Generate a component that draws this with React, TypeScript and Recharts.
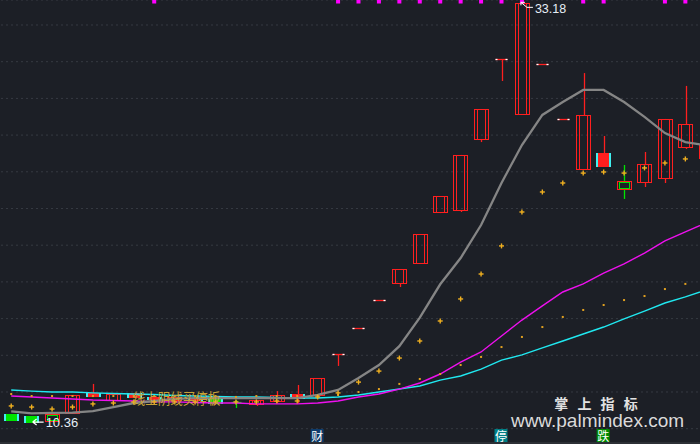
import React from 'react'
import { ComposedChart, Bar, Line, XAxis, YAxis, CartesianGrid, ReferenceDot } from 'recharts'

// daily candles, left to right
const opens = [10.80, 10.69, 10.72, 10.86, 11.78, 11.56, 11.73, 11.62, 11.56, 11.62, 11.67, 11.46, 11.35, 11.51, 11.67, 11.84, 14.07, 15.49, 17.01, 17.94, 19.03, 21.81, 21.92, 25.79, 30.15, 27.15, 29.87, 26.88, 24.15, 24.32, 23.44, 23.44, 23.66, 25.35, 24.75]
const highs = [10.80, 10.69, 10.75, 11.84, 12.44, 11.89, 11.95, 11.73, 11.75, 11.70, 11.67, 11.56, 11.56, 12.05, 12.38, 12.76, 14.07, 15.49, 17.01, 18.70, 20.61, 22.68, 24.92, 27.42, 30.15, 33.18, 29.87, 26.88, 29.38, 25.95, 24.37, 25.08, 26.88, 28.68, 25.46]
const lows = [10.47, 10.36, 10.40, 10.80, 11.78, 11.56, 11.73, 11.62, 11.56, 11.62, 11.40, 11.13, 11.24, 11.40, 11.40, 11.84, 13.42, 15.49, 17.01, 17.72, 19.03, 21.75, 21.81, 25.62, 28.95, 27.15, 29.87, 26.88, 24.15, 24.32, 22.52, 23.17, 23.39, 25.24, 24.75]
const closes = [10.47, 10.37, 10.45, 11.84, 11.95, 11.89, 11.95, 11.73, 11.73, 11.70, 11.40, 11.44, 11.56, 11.84, 11.89, 12.76, 14.07, 15.49, 17.01, 18.70, 20.61, 22.68, 24.92, 27.42, 30.15, 33.18, 29.87, 26.88, 27.10, 25.02, 23.12, 24.43, 26.88, 26.60, 25.46]
// h hollow up, s solid up, g solid down, x cross, b boxed down, f one-price / T
const kinds = ['g', 'g', 'b', 'h', 's', 'h', 's', 's', 'h', 's', 'g', 'x', 'h', 'h', 's', 'h', 'f', 'f', 'f', 'h', 'h', 'h', 'h', 'h', 'f', 'h', 'f', 'f', 'h', 's', 'b', 'h', 'h', 'h', 'h']

const maGray = [10.94, 10.84, 10.86, 10.88, 10.96, 11.18, 11.40, 11.51, 11.62, 11.67, 11.67, 11.67, 11.67, 11.67, 11.67, 11.84, 12.11, 12.76, 13.47, 14.50, 16.05, 17.87, 19.30, 21.10, 23.39, 25.46, 27.10, 27.80, 28.46, 28.46, 27.80, 26.99, 26.11, 25.62, 25.45]
const maMagenta = [11.78, 11.73, 11.67, 11.62, 11.56, 11.54, 11.51, 11.46, 11.46, 11.43, 11.40, 11.40, 11.35, 11.35, 11.35, 11.40, 11.51, 11.73, 11.89, 12.16, 12.49, 12.98, 13.63, 14.18, 15.05, 15.92, 16.69, 17.45, 17.89, 18.48, 18.98, 19.57, 20.23, 20.72, 21.21]
const maCyan = [12.11, 12.05, 12.00, 12.00, 11.95, 11.92, 11.89, 11.86, 11.81, 11.78, 11.76, 11.73, 11.73, 11.70, 11.67, 11.67, 11.73, 11.84, 12.00, 12.16, 12.33, 12.65, 12.87, 13.25, 13.74, 14.02, 14.40, 14.78, 15.16, 15.54, 15.98, 16.41, 16.85, 17.18, 17.56]
const plusMarks = [11.24, 11.18, 11.07, 11.18, 11.35, 11.40, 11.46, 11.46, 11.46, 11.46, 11.46, 11.46, 11.46, 11.51, 11.51, 11.73, 11.95, 12.54, 13.14, 13.85, 14.78, 15.87, 17.07, 18.43, 19.96, 21.81, 22.90, 23.39, 23.93, 23.99, 23.93, 24.21, 24.48, 24.70, 24.92]
const smallDots = [11.89, 11.78, 11.78, 11.78, 11.78, 11.78, 11.78, 11.78, 11.78, 11.78, 11.78, 11.73, 11.78, 11.78, 11.78, 11.78, 11.84, 12.00, 12.16, 12.44, 12.71, 12.98, 13.47, 13.91, 14.45, 15.00, 15.54, 16.09, 16.47, 16.74, 17.01, 17.23, 17.61, 17.89, 18.10]
const signalDays = [7, 16, 17, 18, 19, 20, 21, 22, 23, 24, 25, 28, 29, 32, 33]
const signalLevel = 33.28

const tagDays = [15, 24, 29]
const tagTexts = ['财', '停', '跌']
const tagLevel = 9.63

const gridTicks = [10, 12, 14, 16, 18, 20, 22, 24, 26, 28, 30, 32]
const yDomain = [9.166, 33.362]

const data = opens.map((o, i) => ({
  i,
  open: o,
  high: highs[i],
  low: lows[i],
  close: closes[i],
  kind: kinds[i],
  gray: maGray[i],
  mag: maMagenta[i],
  cyan: maCyan[i],
  plus: plusMarks[i],
  dot: smallDots[i],
  sig: signalDays.includes(i) ? signalLevel : null,
}))

const RED = '#ff1f1f'
const GREEN = '#00e400'
const CYAN = '#40f0f0'
const BG = '#1c1f26'

const span = (d: any) => [d.low, Math.max(d.high, d.low + 0.02)]

function Candle(props: any) {
  const { x, y, width, height } = props
  const p = props.payload ?? props
  if (x == null || y == null || !p) return <g />
  const [lo, hi] = span(p)
  const top = Math.min(y, y + height)
  const k = Math.abs(height) / (hi - lo)
  const py = (v: number) => top + (hi - v) * k
  const yo = py(p.open)
  const yc = py(p.close)
  const yh = py(p.high)
  const yl = py(p.low)
  const bt = Math.round(Math.min(yo, yc)) + 0.5
  const bb = Math.max(Math.round(Math.max(yo, yc)) + 0.5, bt + 2)
  const L = Math.round(x) + 0.5
  const R = Math.round(x + width) - 0.5
  const cx = Math.round(x + width / 2) + 0.5
  const kind = p.kind

  if (kind === 'f') {
    const ly = Math.round(yo) + 0.5
    return (
      <g>
        {yl > ly + 1 && <line x1={cx} x2={cx} y1={ly} y2={yl} stroke={RED} strokeWidth={1.3} />}
        <line x1={L + 1} x2={R - 1} y1={ly} y2={ly} stroke={RED} strokeWidth={1.3} />
        <line x1={L + 1} x2={L + 3} y1={ly} y2={ly} stroke="#ffffff" strokeWidth={1.3} />
        <line x1={R - 3} x2={R - 1} y1={ly} y2={ly} stroke="#ffffff" strokeWidth={1.3} />
      </g>
    )
  }
  if (kind === 'x') {
    const ly = Math.round(yo) + 0.5
    return (
      <g>
        <line x1={cx} x2={cx} y1={yh} y2={yl} stroke={GREEN} strokeWidth={1.3} />
        <line x1={cx - 5} x2={cx + 5} y1={ly} y2={ly} stroke={GREEN} strokeWidth={1.3} />
      </g>
    )
  }
  const down = kind === 'g' || kind === 'b'
  const col = down ? GREEN : RED
  const wicks = (
    <>
      {yh < bt - 0.5 && <line x1={cx} x2={cx} y1={yh} y2={bt} stroke={col} strokeWidth={1.3} />}
      {yl > bb + 0.5 && <line x1={cx} x2={cx} y1={bb} y2={yl} stroke={col} strokeWidth={1.3} />}
    </>
  )
  if (kind === 'h') {
    return (
      <g>
        {wicks}
        <rect x={L} y={bt} width={R - L} height={bb - bt} fill="none" stroke={RED} strokeWidth={1} />
        <line x1={L + 3} x2={L + 3} y1={bt} y2={bb} stroke={RED} strokeWidth={1} />
        <line x1={R - 3} x2={R - 3} y1={bt} y2={bb} stroke={RED} strokeWidth={1} />
      </g>
    )
  }
  if (kind === 'b') {
    return (
      <g>
        {wicks}
        <rect x={L} y={bt - 1} width={R - L} height={bb - bt + 2} fill="none" stroke={RED} strokeWidth={1} />
        <rect x={L + 2} y={bt} width={R - L - 4} height={bb - bt} fill="none" stroke={GREEN} strokeWidth={1} />
      </g>
    )
  }
  // solid bodies with cyan sides
  const X0 = Math.round(x)
  const W = Math.round(width)
  return (
    <g>
      {wicks}
      <rect x={X0} y={bt - 0.5} width={W} height={bb - bt + 1} fill={col} />
      <rect x={X0} y={bt - 0.5} width={2} height={bb - bt + 1} fill={CYAN} />
      <rect x={X0 + W - 2} y={bt - 0.5} width={2} height={bb - bt + 1} fill={CYAN} />
    </g>
  )
}

const PlusDot = (props: any) => {
  const { cx, cy, index } = props
  if (cx == null || cy == null) return <g key={`pl${index}`} />
  return (
    <g key={`pl${index}`}>
      <line x1={cx - 2.5} x2={cx + 2.5} y1={cy} y2={cy} stroke="#f0b020" strokeWidth={1.4} />
      <line x1={cx} x2={cx} y1={cy - 2.5} y2={cy + 2.5} stroke="#f0b020" strokeWidth={1.4} />
    </g>
  )
}

const SmallDot = (props: any) => {
  const { cx, cy, index } = props
  if (cx == null || cy == null) return <g key={`sd${index}`} />
  return <rect key={`sd${index}`} x={cx - 1} y={cy - 1} width={2} height={2} fill="#e0a020" />
}

const SignalDot = (props: any) => {
  const { cx, cy, index, value } = props
  if (cx == null || cy == null || value == null) return <g key={`sg${index}`} />
  return <rect key={`sg${index}`} x={cx - 2} y={cy - 1.5} width={4} height={3.5} fill="#ff00ff" />
}

const tagColors: Record<string, string> = { 财: '#0d3b6b', 停: '#007f86', 跌: '#008a00' }

export default function App() {
  return (
    <div style={{ position: 'absolute', left: 0, top: 0, width: 700, height: 444, overflow: 'hidden', background: BG }}>
      <ComposedChart width={716} height={444} data={data} margin={{ top: 0, right: 0, bottom: 0, left: 1 }}>
        <CartesianGrid horizontal vertical={false} stroke="#363a42" strokeDasharray="2 3" />
        <XAxis dataKey="i" type="category" hide />
        <YAxis type="number" domain={yDomain} ticks={gridTicks} allowDataOverflow hide />
        <Bar dataKey={span} barSize={15} shape={Candle} isAnimationActive={false} />
        <Line dataKey="cyan" type="linear" stroke="#20e8f0" strokeWidth={1.4} dot={false} activeDot={false} isAnimationActive={false} />
        <Line dataKey="mag" type="linear" stroke="#ee10ee" strokeWidth={1.4} dot={false} activeDot={false} isAnimationActive={false} />
        <Line dataKey="gray" type="linear" stroke="#858585" strokeWidth={2.3} dot={false} activeDot={false} isAnimationActive={false} />
        <Line dataKey="dot" stroke="none" dot={SmallDot} activeDot={false} isAnimationActive={false} />
        <Line dataKey="plus" stroke="none" dot={PlusDot} activeDot={false} isAnimationActive={false} />
        <Line dataKey="sig" stroke="none" dot={SignalDot} activeDot={false} isAnimationActive={false} />
        <ReferenceDot
          x={25}
          y={33.18}
          r={0}
          ifOverflow="visible"
          shape={(p: any) => (
            <g>
              <path d={`M${p.cx - 1},${p.cy - 1} L${p.cx + 5},${p.cy + 4} L${p.cx + 11},${p.cy + 4} M${p.cx - 1},${p.cy - 1} l4,0 M${p.cx - 1},${p.cy - 1} l0,3`} stroke="#ffffff" strokeWidth={1} fill="none" />
              <text x={p.cx + 13} y={p.cy + 9.5} fill="#e6eef6" fontSize={12.5} fontFamily="'Liberation Sans', Arial, sans-serif">33.18</text>
            </g>
          )}
        />
        <ReferenceDot
          x={1}
          y={10.36}
          r={0}
          ifOverflow="visible"
          shape={(p: any) => (
            <g>
              <path d={`M${p.cx + 1},${p.cy} L${p.cx + 12},${p.cy} M${p.cx + 1},${p.cy} l4,-3 M${p.cx + 1},${p.cy} l4,3`} stroke="#ffffff" strokeWidth={1.2} fill="none" />
              <text x={p.cx + 14} y={p.cy + 5} fill="#e6eef6" fontSize={13} fontFamily="'Liberation Sans', Arial, sans-serif">10.36</text>
            </g>
          )}
        />
        <ReferenceDot
          x={6}
          y={11.67}
          r={0}
          ifOverflow="visible"
          shape={(p: any) => (
            <text x={p.cx - 1} y={p.cy} dominantBaseline="central" fill="#c9a236" fontSize={12.5} fontFamily="'Noto Sans CJK SC', sans-serif" transform={`translate(0 ${-p.cy * 0.15}) scale(1 1.15)`}>线上阴线买停板</text>
          )}
        />
        {tagDays.map((d, k) => (
          <ReferenceDot
            key={d}
            x={d}
            y={tagLevel}
            r={0}
            ifOverflow="visible"
            shape={(p: any) => (
              <g>
                <rect x={p.cx - 7} y={p.cy - 6.5} width={13} height={13} fill={tagColors[tagTexts[k]]} />
                <text x={p.cx - 0.5} y={p.cy} textAnchor="middle" dominantBaseline="central" fill="#ffffff" fontSize={12} fontFamily="'Noto Sans CJK SC', sans-serif">{tagTexts[k]}</text>
              </g>
            )}
          />
        ))}
      </ComposedChart>
      <div style={{ position: 'absolute', left: 0, top: 442, width: 700, height: 2, background: '#2c2f35' }} />
      <div style={{ position: 'absolute', left: 505, top: 394, width: 185, textAlign: 'center', color: '#e2e2e2', fontFamily: "'Noto Sans CJK SC', sans-serif", fontWeight: 700, fontSize: 14, letterSpacing: 3, lineHeight: '18px' }}>
        掌 上 指 标
      </div>
      <div style={{ position: 'absolute', left: 505, top: 410, width: 185, textAlign: 'center', color: '#dadada', fontFamily: "'Liberation Sans', Arial, sans-serif", fontSize: 19, lineHeight: '22px' }}>
        www.palmindex.com
      </div>
    </div>
  )
}
